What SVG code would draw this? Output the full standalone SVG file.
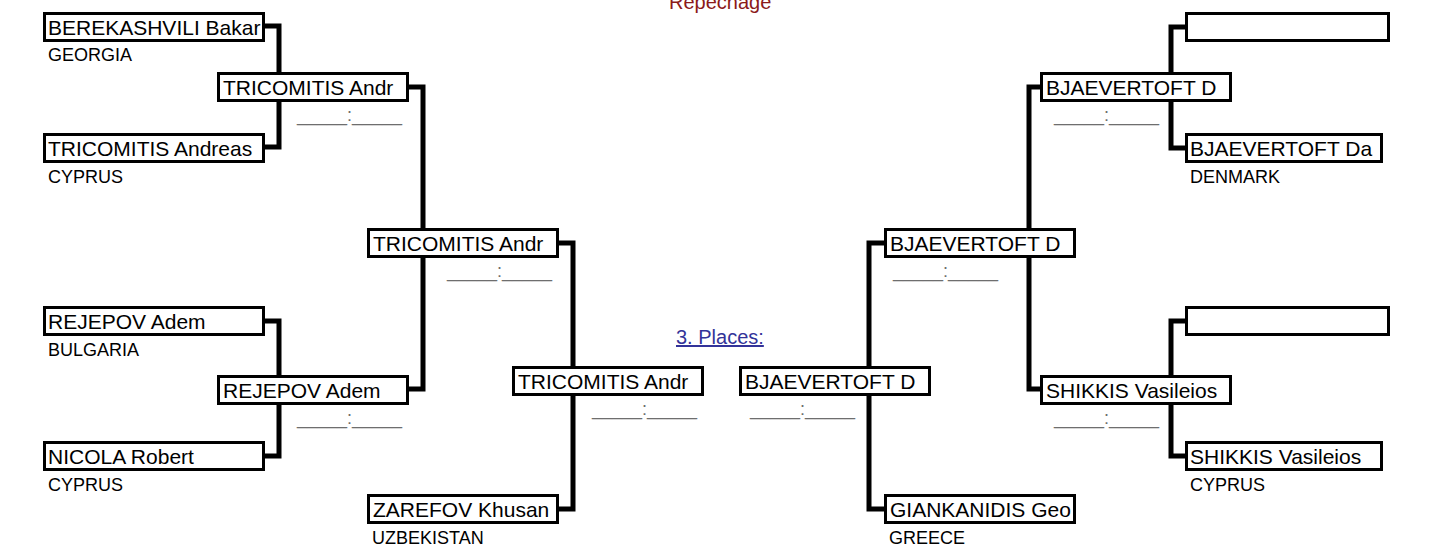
<svg xmlns="http://www.w3.org/2000/svg" width="1443" height="550" viewBox="0 0 1443 550">
<style>
.box{fill:#fff;stroke:#000;stroke-width:3}
.conn{fill:none;stroke:#000;stroke-width:5;stroke-linejoin:miter}
text{font-family:"Liberation Sans",Arial,sans-serif}
.name{font-size:21px;fill:#000}
.country{font-size:18px;fill:#000}
.score{font-size:18px;fill:#6e6e6e}
.title{font-size:20px;fill:#8B1A1A}
.link{font-size:20px;fill:#333399;text-decoration:underline}
</style>
<rect width="1443" height="550" fill="#fff"/>
<text class="title" x="669" y="9">Repechage</text>
<text class="link" x="676" y="344">3. Places:</text>
<g id="connectors">
<path class="conn" d="M265,26 H279 V147 H265"/>
<path class="conn" d="M409,87 H423 V389 H409"/>
<path class="conn" d="M559,243 H573 V509 H559"/>
<path class="conn" d="M265,321 H279 V456 H265"/>
<path class="conn" d="M884,243 H869 V509 H884"/>
<path class="conn" d="M1040,87 H1029 V389 H1040"/>
<path class="conn" d="M1185,27 H1171 V148 H1185"/>
<path class="conn" d="M1185,321 H1171 V456 H1185"/>
</g>
<g id="a1"><rect class="box" x="44.5" y="13.5" width="219" height="27"/><text class="name" x="48" y="35">BEREKASHVILI Bakar</text><text class="country" x="48" y="61">GEORGIA</text></g>
<g id="a2"><rect class="box" x="44.5" y="134.5" width="219" height="27"/><text class="name" x="48" y="156">TRICOMITIS Andreas</text><text class="country" x="48" y="183">CYPRUS</text></g>
<g id="a3"><rect class="box" x="44.5" y="307.5" width="219" height="27"/><text class="name" x="48" y="329">REJEPOV Adem</text><text class="country" x="48" y="356">BULGARIA</text></g>
<g id="a4"><rect class="box" x="44.5" y="442.5" width="219" height="27"/><text class="name" x="48" y="464">NICOLA Robert</text><text class="country" x="48" y="491">CYPRUS</text></g>
<g id="b1"><rect class="box" x="218.5" y="73.5" width="189" height="27"/><text class="name" x="223" y="95">TRICOMITIS Andr</text><text class="score" x="297" y="121">_____:_____</text></g>
<g id="b2"><rect class="box" x="218.5" y="376.5" width="189" height="27"/><text class="name" x="223" y="398">REJEPOV Adem</text><text class="score" x="297" y="424">_____:_____</text></g>
<g id="c1"><rect class="box" x="368.5" y="229.5" width="189" height="27"/><text class="name" x="373" y="251">TRICOMITIS Andr</text><text class="score" x="447" y="277">_____:_____</text></g>
<g id="c2"><rect class="box" x="368.5" y="495.5" width="189" height="27"/><text class="name" x="373" y="517">ZAREFOV Khusan</text><text class="country" x="372" y="544">UZBEKISTAN</text></g>
<g id="d1"><rect class="box" x="513.5" y="367.5" width="189" height="27"/><text class="name" x="518" y="389">TRICOMITIS Andr</text><text class="score" x="592" y="415">_____:_____</text></g>
<g id="d2"><rect class="box" x="740.5" y="367.5" width="189" height="27"/><text class="name" x="745" y="389">BJAEVERTOFT D</text><text class="score" x="750" y="415">_____:_____</text></g>
<g id="c3"><rect class="box" x="885.5" y="229.5" width="189" height="27"/><text class="name" x="890" y="251">BJAEVERTOFT D</text><text class="score" x="893" y="277">_____:_____</text></g>
<g id="c4"><rect class="box" x="885.5" y="495.5" width="189" height="27"/><text class="name" x="890" y="517">GIANKANIDIS Geo</text><text class="country" x="889" y="544">GREECE</text></g>
<g id="b3"><rect class="box" x="1041.5" y="73.5" width="189" height="27"/><text class="name" x="1046" y="95">BJAEVERTOFT D</text><text class="score" x="1054" y="121">_____:_____</text></g>
<g id="b4"><rect class="box" x="1041.5" y="376.5" width="189" height="27"/><text class="name" x="1046" y="398">SHIKKIS Vasileios</text><text class="score" x="1054" y="424">_____:_____</text></g>
<g id="e1"><rect class="box" x="1186.5" y="13.5" width="202" height="27"/></g>
<g id="e2"><rect class="box" x="1186.5" y="134.5" width="195" height="27"/><text class="name" x="1190" y="156">BJAEVERTOFT Da</text><text class="country" x="1190" y="183">DENMARK</text></g>
<g id="e3"><rect class="box" x="1186.5" y="307.5" width="202" height="27"/></g>
<g id="e4"><rect class="box" x="1186.5" y="442.5" width="195" height="27"/><text class="name" x="1190" y="464">SHIKKIS Vasileios</text><text class="country" x="1190" y="491">CYPRUS</text></g>
</svg>
